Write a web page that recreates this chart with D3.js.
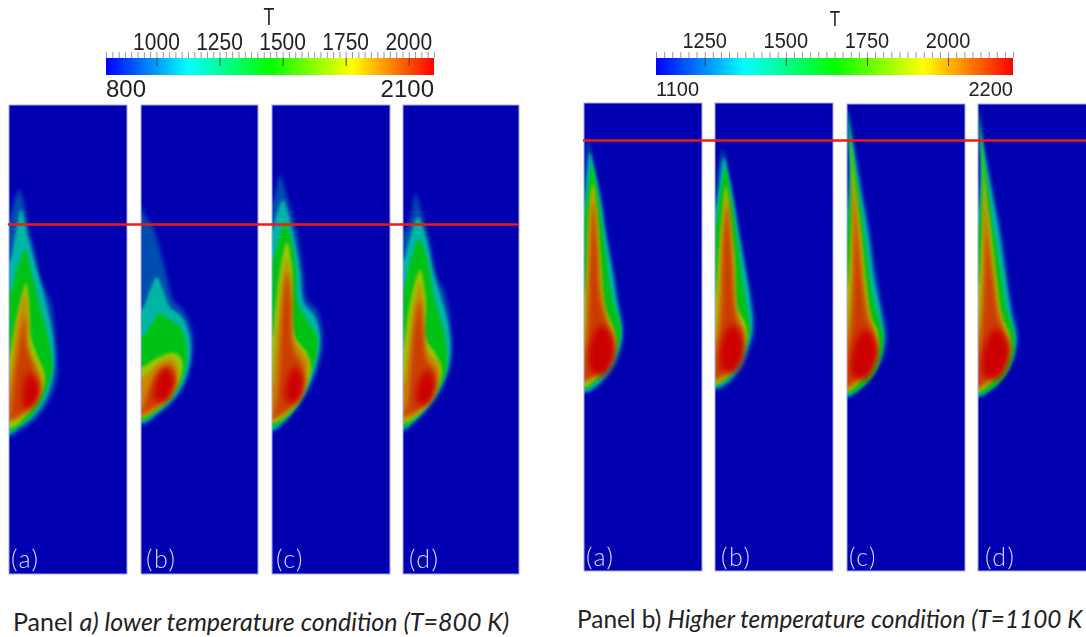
<!DOCTYPE html>
<html>
<head>
<meta charset="utf-8">
<script src="https://cdn.jsdelivr.net/npm/d3@7"></script>
<style>
  html, body { margin: 0; padding: 0; background: #fff; overflow: hidden; }
</style>
</head>
<body>
<div id="chart"></div>
<script>
// temperature of each contour, hottest last
const levelsLow = [940, 1150, 1410, 1700, 1880, 2000, 2100];
const levelsHigh = [1230, 1400, 1620, 1870, 2020, 2120, 2200];
const tickLabelsLow = [1000, 1250, 1500, 1750, 2000];
const tickLabelsHigh = [1250, 1500, 1750, 2000];
const caseLabels = ["(a)", "(b)", "(c)", "(d)"];

// contours, [r, z] from the axis and from the panel top
const lowA = [
  [[0,118],[3,105],[10,85],[15,98],[19,120],[26,148],[32,175],[41,195],[45,218],[48,250],[48,272],[41,294],[28,313],[11,326],[0,332]],
  [[0,158],[6,132],[12,105],[19,132],[28,165],[37,198],[44,232],[45,265],[38,292],[24,312],[9,323],[0,329]],
  [[0,188],[8,165],[16,145],[22,165],[30,198],[39,232],[43,265],[34,292],[23,310],[9,322],[0,327]],
  [[0,252],[4,232],[11,198],[17,178],[20,198],[22,232],[29,252],[36,272],[31,292],[19,308],[8,320],[0,323]],
  [[0,282],[4,248],[9,215],[16,188],[19,215],[19,242],[26,258],[33,275],[28,292],[18,307],[0,317]],
  [[0,312],[4,282],[9,248],[16,212],[18,242],[26,265],[31,282],[26,295],[14,308],[0,314]],
  [[20,268],[30,282],[27,298],[16,304],[14,285]]
];
const lowB = [
  [[0,100],[2,108],[12,122],[19,145],[26,172],[32,195],[42,205],[50,222],[52,245],[47,272],[36,292],[19,308],[0,320]],
  [[0,205],[9,185],[16,172],[22,185],[29,202],[41,212],[47,225],[50,245],[45,272],[34,292],[18,307],[0,318]],
  [[0,232],[9,222],[19,208],[24,212],[39,222],[46,245],[42,272],[31,292],[17,305],[0,316]],
  [[0,262],[16,253],[34,248],[41,255],[40,272],[28,292],[16,303],[0,313]],
  [[0,272],[16,260],[29,253],[36,262],[36,278],[26,295],[14,305],[0,311]],
  [[0,306],[9,282],[19,265],[31,262],[34,275],[26,292],[12,303],[0,309]],
  [[24,262],[33,275],[26,295],[15,296],[14,282]]
];
const lowC = [
  [[0,98],[4,85],[8,70],[13,85],[20,108],[26,132],[31,165],[35,195],[45,205],[50,222],[50,245],[43,272],[28,298],[13,317],[0,327]],
  [[0,125],[5,108],[11,95],[16,108],[22,132],[28,165],[32,198],[43,212],[48,232],[46,252],[38,278],[25,302],[10,318],[0,325]],
  [[0,155],[6,138],[14,118],[20,138],[24,165],[26,198],[35,215],[45,232],[44,252],[35,278],[23,302],[10,317],[0,322]],
  [[0,232],[4,198],[8,165],[15,137],[20,165],[20,198],[23,232],[35,248],[39,265],[31,288],[18,307],[0,318]],
  [[0,278],[5,232],[10,182],[15,153],[19,182],[21,232],[35,255],[35,272],[28,292],[15,307],[0,315]],
  [[0,312],[5,292],[8,248],[11,198],[15,168],[19,198],[21,242],[31,262],[31,282],[23,298],[8,310],[0,313]],
  [[23,262],[31,275],[27,295],[16,298],[14,280]]
];
const lowD = [
  [[0,128],[9,108],[12,88],[19,108],[27,138],[34,172],[42,188],[47,215],[49,252],[42,278],[27,302],[9,320],[0,327]],
  [[0,155],[7,132],[15,112],[23,132],[30,165],[38,192],[45,218],[47,252],[40,278],[25,302],[9,318],[0,324]],
  [[0,185],[7,158],[16,135],[25,158],[30,188],[37,212],[42,232],[44,262],[37,282],[22,303],[9,317],[0,322]],
  [[0,245],[2,232],[7,198],[17,165],[23,198],[22,232],[32,248],[39,265],[32,288],[17,308],[0,318]],
  [[0,278],[5,252],[9,215],[17,178],[21,215],[22,245],[34,257],[36,272],[29,292],[15,307],[0,315]],
  [[0,310],[5,295],[7,272],[10,232],[17,195],[21,232],[24,255],[33,268],[30,285],[19,302],[0,311]],
  [[24,265],[32,278],[27,297],[16,300],[14,285]]
];
const highA = [
  [[0,104],[2,60],[4,36],[9,60],[17,94],[22,127],[28,160],[34,194],[39,227],[37,247],[28,267],[13,284],[0,290]],
  [[0,100],[3,70],[6,50],[11,70],[17,100],[22,134],[28,167],[33,200],[38,227],[35,247],[26,267],[13,282],[0,289]],
  [[0,114],[4,87],[8,63],[13,87],[17,114],[22,154],[28,194],[35,217],[37,230],[33,247],[23,267],[11,280],[0,286]],
  [[0,194],[3,160],[5,110],[9,80],[13,110],[17,160],[21,204],[29,224],[32,240],[25,260],[11,277],[0,284]],
  [[0,244],[4,177],[6,127],[9,86],[13,127],[16,177],[22,214],[29,230],[31,244],[24,260],[9,275],[0,279]],
  [[0,272],[3,244],[5,194],[7,144],[9,100],[13,144],[16,194],[23,220],[29,237],[26,254],[13,270],[0,277]],
  [[17,222],[29,238],[30,256],[19,273],[6,266],[7,238]]
];
const highB = [
  [[0,104],[3,70],[8,47],[13,70],[20,104],[26,140],[33,177],[38,204],[39,230],[33,250],[25,267],[12,282],[0,287]],
  [[0,107],[4,84],[9,55],[16,84],[22,120],[29,160],[35,197],[37,227],[31,250],[23,267],[11,280],[0,285]],
  [[0,124],[5,94],[10,66],[16,94],[21,127],[26,167],[31,200],[35,227],[29,249],[21,265],[10,279],[0,283]],
  [[0,194],[3,160],[7,114],[11,83],[15,114],[20,160],[22,204],[30,220],[32,234],[25,254],[15,270],[0,281]],
  [[0,240],[5,180],[8,134],[12,91],[16,134],[19,180],[22,210],[28,225],[30,240],[22,257],[13,272],[0,279]],
  [[0,272],[3,247],[7,200],[8,150],[12,103],[16,150],[19,200],[22,217],[28,230],[25,247],[17,264],[0,275]],
  [[18,222],[28,238],[28,256],[18,270],[6,265],[7,238]]
];
const highC = [
  [[0,100],[2,60],[0.5,20],[0,2],[6,36],[14,79],[23,129],[28,163],[35,203],[40,229],[38,249],[28,269],[13,286],[0,294]],
  [[0,108],[3,70],[1.5,30],[0,5],[5,36],[12,79],[21,129],[26,169],[34,209],[37,236],[30,263],[13,283],[0,292]],
  [[0,125],[4,79],[3,36],[0.5,8],[4,36],[10,79],[17,129],[22,169],[28,203],[36,229],[34,253],[25,273],[11,286],[0,290]],
  [[0,183],[4,129],[5,79],[3,30],[8,79],[14,129],[19,179],[24,213],[30,226],[32,243],[26,263],[11,279],[0,288]],
  [[0,229],[5,163],[6,96],[5,60],[8,96],[14,146],[19,196],[26,223],[30,243],[24,263],[10,279],[0,285]],
  [[0,276],[2,246],[6,196],[7,129],[6,75],[10,129],[15,179],[20,213],[26,229],[28,244],[21,263],[6,278],[0,283]],
  [[18,225],[29,238],[30,256],[19,275],[6,272],[6,245]]
];
const highD = [
  [[0,100],[2,60],[0.5,20],[0,2],[5,36],[13,79],[23,129],[29,169],[34,203],[40,229],[38,249],[29,269],[14,286],[0,294]],
  [[0,108],[3,70],[1.5,30],[0,5],[4,36],[12,79],[21,129],[27,169],[33,209],[38,236],[31,263],[14,283],[0,292]],
  [[0,125],[4,79],[3,36],[0.5,8],[4,36],[9,79],[16,129],[23,169],[28,203],[36,229],[35,253],[26,273],[12,286],[0,290]],
  [[0,183],[4,129],[5,79],[3,30],[7,79],[13,129],[19,179],[24,213],[30,226],[33,243],[27,263],[12,279],[0,288]],
  [[0,229],[5,163],[6,96],[5,60],[7,96],[13,146],[19,196],[26,223],[31,243],[25,263],[11,279],[0,285]],
  [[0,276],[2,246],[6,196],[7,129],[6,75],[9,129],[15,179],[20,213],[26,229],[29,244],[22,263],[7,278],[0,283]],
  [[18,225],[30,238],[31,256],[20,275],[6,272],[6,245]]
];

const width = 1086;
const height = 637;

const svg = d3.select("#chart").append("svg")
    .attr("width", width)
    .attr("height", height)
    .style("display", "block");

const defs = svg.append("defs");

function addBlur(id, amount) {
  defs.append("filter").attr("id", id)
      .attr("filterUnits", "userSpaceOnUse")
      .attr("x", 0).attr("y", 0).attr("width", width).attr("height", height)
    .append("feGaussianBlur").attr("stdDeviation", amount);
}
addBlur("textSoft", 0.45);
// inner contours melt into each other, outer ones stay tighter
const ringBlur = [2.2, 1.5, 1.3, 1.4, 1.9, 2.4, 3];
ringBlur.forEach((b, i) => addBlur("ring" + i, b));

// the rainbow, even stops, and the same thing a bit darker on the surfaces
const hues = ["#0000ff", "#00ffff", "#00ff00", "#ffff00", "#ff0000"];
const huesLit = ["#0000b0", "#00b4b4", "#00c400", "#c8c800", "#cc0000"];
const stops = d => d3.range(5).map(i => d[0] + (d[1] - d[0]) * i / 4);

let clipId = 0;
const flameLine = d3.line().curve(d3.curveCatmullRomClosed.alpha(0.5));

function drawColorbar(cfg) {
  const g = svg.append("g");
  const x = d3.scaleLinear().domain(cfg.domain).range(cfg.range);
  const color = d3.scaleLinear().domain(stops(cfg.domain)).range(hues);
  const gradId = "ramp" + cfg.domain[0];
  const grad = defs.append("linearGradient").attr("id", gradId);
  grad.selectAll("stop").data(stops(cfg.domain)).enter().append("stop")
      .attr("offset", d => (x(d) - cfg.range[0]) / (cfg.range[1] - cfg.range[0]))
      .attr("stop-color", d => color(d));

  g.append("rect")
      .attr("x", cfg.range[0]).attr("y", cfg.barTop)
      .attr("width", cfg.range[1] - cfg.range[0]).attr("height", cfg.barHeight)
      .attr("fill", `url(#${gradId})`);

  // fine ruler above the bar
  const minor = g.append("g").attr("transform", `translate(0,${cfg.barTop})`)
      .call(d3.axisTop(x)
        .tickValues(d3.range(cfg.domain[0], cfg.domain[1] + 1, 25))
        .tickSize(6).tickFormat(""));
  minor.select(".domain").remove();
  minor.selectAll("line").attr("stroke", "#999");

  // major marks run down into the bar, labels sit over the ruler
  const major = g.append("g").attr("transform", `translate(0,${cfg.barTop + 8})`)
      .call(d3.axisTop(x).tickValues(cfg.labels).tickSize(8).tickFormat(""));
  major.select(".domain").remove();
  major.selectAll("line").attr("stroke", "#444");

  const text = g.append("g").attr("filter", "url(#textSoft)")
      .attr("font-family", "'Liberation Sans', sans-serif")
      .attr("fill", "#222");
  text.selectAll(".lab").data(cfg.labels).enter().append("text")
      .attr("class", "lab")
      .attr("transform", d => `translate(${x(d)},${cfg.labelY}) scale(1,1.12)`)
      .attr("font-size", cfg.fontSize)
      .attr("text-anchor", "middle").text(d => d);
  text.append("text").attr("x", x(cfg.domain[0])).attr("y", cfg.endY)
      .attr("font-size", cfg.endSize).text(cfg.domain[0]);
  text.append("text").attr("x", x(cfg.domain[1])).attr("y", cfg.endY)
      .attr("font-size", cfg.endSize)
      .attr("text-anchor", "end").text(cfg.domain[1]);
  text.append("text").attr("transform", `translate(${cfg.titleX},${cfg.titleY}) scale(0.85,1.1)`)
      .attr("font-size", cfg.fontSize)
      .attr("text-anchor", "middle").text("T");
}

function drawPanel(p, rings, levels, domain, label) {
  const color = d3.scaleLinear().domain(stops(domain)).range(huesLit);
  const r = d3.scaleLinear().domain([0, 118]).range([p.x, p.x + 118]);
  const z = d3.scaleLinear().domain([0, 470]).range([p.y, p.y + 470]);
  const id = "clip" + (clipId++);
  defs.append("clipPath").attr("id", id).append("rect")
      .attr("x", p.x).attr("y", p.y).attr("width", p.w).attr("height", p.h);

  const g = svg.append("g").attr("clip-path", `url(#${id})`);
  g.append("rect")
      .attr("x", p.x).attr("y", p.y).attr("width", p.w).attr("height", p.h)
      .attr("fill", color(domain[0]));

  // contours that reach the axis get mirrored over it, so the blur does not bleed at the edge
  const outline = ring => {
    const back = ring[0][0] === 0
      ? ring.slice().reverse().filter(d => d[0] > 0).map(d => [-d[0], d[1]])
      : [];
    return ring.concat(back).map(d => [r(d[0]), z(d[1])]);
  };
  g.selectAll(".ring").data(rings).enter().append("path")
      .attr("class", "ring")
      .attr("d", d => flameLine(outline(d)))
      .attr("filter", (d, i) => `url(#ring${i})`)
      .attr("fill", (d, i) => color(levels[i]));

  svg.append("rect")
      .attr("x", p.x).attr("y", p.y).attr("width", p.w).attr("height", p.h)
      .attr("fill", "none").attr("stroke", "#a8a8f0").attr("stroke-width", 1);

  svg.append("text")
      .attr("x", p.x + p.labelDx).attr("y", p.y + p.labelDy)
      .attr("font-family", "Lato, sans-serif").attr("font-size", 25).attr("font-weight", 300)
      .attr("letter-spacing", 1.5)
      .attr("fill", "#d4dcff").attr("filter", "url(#textSoft)")
      .text(label);
}

drawColorbar({domain: [800, 2100], range: [106, 434], barTop: 58, barHeight: 17,
  labels: tickLabelsLow, labelY: 50, endY: 97, fontSize: 21, endSize: 24, titleX: 269, titleY: 25});
drawColorbar({domain: [1100, 2200], range: [656, 1013], barTop: 58, barHeight: 17,
  labels: tickLabelsHigh, labelY: 48, endY: 96, fontSize: 20, endSize: 20, titleX: 835, titleY: 26});

const panelsLow = [
  {x: 9, y: 105, w: 118, h: 469, labelDx: 2, labelDy: 463},
  {x: 141, y: 105, w: 117, h: 469, labelDx: 5, labelDy: 463},
  {x: 272, y: 105, w: 118, h: 469, labelDx: 4, labelDy: 463},
  {x: 403, y: 105, w: 116, h: 469, labelDx: 6, labelDy: 463}
];
const panelsHigh = [
  {x: 584, y: 103, w: 118, h: 468, labelDx: 2, labelDy: 463},
  {x: 715, y: 103, w: 118, h: 468, labelDx: 6, labelDy: 463},
  {x: 847, y: 104, w: 118, h: 467, labelDx: 2, labelDy: 462},
  {x: 978, y: 104, w: 120, h: 467, labelDx: 7, labelDy: 462}
];

[lowA, lowB, lowC, lowD].forEach((rings, i) =>
  drawPanel(panelsLow[i], rings, levelsLow, [800, 2100], caseLabels[i]));
[highA, highB, highC, highD].forEach((rings, i) =>
  drawPanel(panelsHigh[i], rings, levelsHigh, [1100, 2200], caseLabels[i]));

// red reference lines
svg.append("line").attr("x1", 8).attr("x2", 519).attr("y1", 224.5).attr("y2", 224.5)
    .attr("stroke", "#f01818").attr("stroke-width", 2.6);
svg.append("line").attr("x1", 583).attr("x2", 1086).attr("y1", 140.5).attr("y2", 140.5)
    .attr("stroke", "#f01818").attr("stroke-width", 2.6);

// captions
const capLow = svg.append("text").attr("x", 13).attr("y", 631)
    .attr("font-family", "Lato, sans-serif").attr("font-size", 25).attr("fill", "#222");
capLow.append("tspan").text("Panel ");
capLow.append("tspan").attr("font-style", "italic").text("a) lower temperature condition (T=800 K)");

// the reference runs off the page right after the K
const capHigh = svg.append("text").attr("x", 577).attr("y", 628)
    .attr("font-family", "Lato, sans-serif").attr("font-size", 24.4).attr("fill", "#222");
capHigh.append("tspan").text("Panel b) ");
capHigh.append("tspan").attr("font-style", "italic").text("Higher temperature condition (T=1100 K");
</script>
</body>
</html>
